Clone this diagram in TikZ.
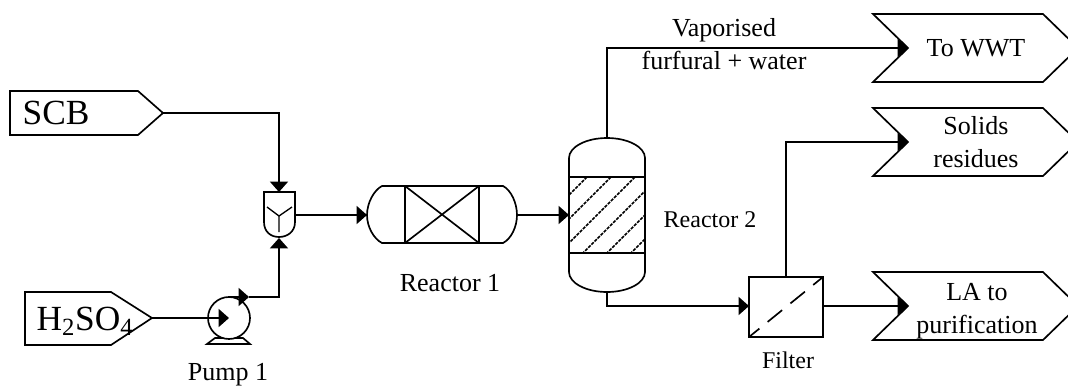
\documentclass[tikz,border=0pt]{standalone}
\usepackage{fontspec}
\setmainfont{Liberation Serif}
\usetikzlibrary{arrows.meta}
\tikzset{
  x=0.75pt,y=-0.75pt,
  unit/.style={draw=black,line width=1.25pt,line join=miter,fill=white},
  pipe/.style={draw=black,line width=1.25pt},
  flow/.style={pipe,-{Triangle[length=7.8pt,width=13.5pt]}},
  lbl/.style={inner sep=0pt,align=center,font=\fontsize{19.5pt}{24.75pt}\selectfont},
  lblsmall/.style={inner sep=0pt,align=center,font=\fontsize{18pt}{24pt}\selectfont},
  lblbig/.style={inner sep=0pt,align=center,font=\fontsize{26.5pt}{30pt}\selectfont},
}
\newcommand{\chevronat}[2]{% #1 top y, #2 mid-y
  \path[unit] (873,#1) -- (1043,#1) -- (1078,#2) -- (1043,2*#2-#1) -- (873,2*#2-#1) -- (908,#2) -- cycle;
}
\begin{document}
\begin{tikzpicture}
\useasboundingbox (0,0) rectangle (1068,387);
\clip (0,0) rectangle (1068,387);
% port coordinates
\coordinate (scbTip) at (163,113);
\coordinate (acidTip) at (152,318);
\coordinate (pumpIn) at (229,318);
\coordinate (pumpOut) at (229,297);
\coordinate (pumpOutHead) at (249,297);
\coordinate (mixTop) at (279,192);
\coordinate (mixBot) at (279,238);
\coordinate (mixOut) at (295,215);
\coordinate (r1In) at (367,215);
\coordinate (r1Out) at (517,215);
\coordinate (r2In) at (569,215);
\coordinate (r2Top) at (607,138);
\coordinate (r2Bot) at (607,292);
\coordinate (filtIn) at (749,306);
\coordinate (filtOut) at (823,306);
\coordinate (filtTop) at (786,277);
\coordinate (wwtIn) at (908,48);
\coordinate (solIn) at (908,142);
\coordinate (laIn) at (908,306);
% feeds
\path[unit] (10,91) -- (138,91) -- (scbTip) -- (138,135) -- (10,135) -- cycle;
\path[unit] (25,292) -- (111,292) -- (acidTip) -- (111,345) -- (25,345) -- cycle;
% products
\chevronat{14}{48}
\chevronat{108}{142}
\chevronat{272}{306}
% pump
\path[unit] (215,338) -- (243,338) -- (250,344) -- (207,344) -- cycle;
\path[unit] (229,318) circle [radius=21];
% mixer
\path[unit] (264,192) -- (295,192) -- (295,222) .. controls (295,232) and (287,237) .. (279,237) .. controls (271,237) and (264,232) .. (264,222) -- cycle;
\draw[line width=1pt] (267,207) -- (279,216) -- (292,207) (279,216) -- (279,232);
% reactor 1
\path[unit] (382,186) -- (503,186) .. controls (511,190) and (517,203) .. (517,215) .. controls (517,227) and (511,239) .. (503,243) -- (382,243) .. controls (374,239) and (367,227) .. (367,215) .. controls (367,203) and (374,190) .. (382,186) -- cycle;
\draw[line width=1.25pt] (405,186) rectangle (479,243) (405,186) -- (479,243) (405,243) -- (479,186);
% reactor 2
\path[unit] (569,158) .. controls (569,147) and (586,138) .. (607,138) .. controls (628,138) and (645,147) .. (645,158) -- (645,272) .. controls (645,283) and (628,292) .. (607,292) .. controls (586,292) and (569,283) .. (569,272) -- cycle;
\begin{scope}
\clip (569,177) rectangle (645,253);
\foreach \xx in {587,611,635,659,683,707,731}
  \draw[line width=1.25pt,dash pattern=on 2.4pt off 0.9pt] (\xx,177) -- (\xx-76,253);
\end{scope}
\draw[line width=1.25pt] (569,177) rectangle (645,253);
% filter
\path[unit] (749,277) rectangle (823,337);
\draw[line width=1.25pt,dash pattern=on 14pt off 8pt,dash phase=4pt] (749,337) -- (823,277);
% connectors
\draw[flow] (scbTip) -| (mixTop);
\draw[flow] (acidTip) -- (pumpIn);
\draw[flow] (pumpOut) -- (pumpOutHead);
\draw[flow] (pumpOutHead) -| (mixBot);
\draw[flow] (mixOut) -- (r1In);
\draw[flow] (r1Out) -- (r2In);
\draw[flow] (r2Top) |- (wwtIn);
\draw[flow] (r2Bot) |- (filtIn);
\draw[flow] (filtTop) |- (solIn);
\draw[flow] (filtOut) -- (laIn);
% labels
\node[lblbig] (scbLabel) at (56,113) {SCB};
\node[lblbig] (acidLabel) at (85,321) {H\textsubscript{2}SO\textsubscript{4}};
\node[lbl] (pumpLabel) at (228,375) {Pump 1};
\node[lbl] (r1Label) at (450,283) {Reactor 1};
\node[lblsmall] (r2Label) at (710,220) {Reactor 2};
\node[lblsmall] (filtLabel) at (788,360) {Filter};
\node[lbl] (vapLabel) at (724,44) {Vaporised\\furfural + water};
\node[lbl] (wwtLabel) at (976,48) {To WWT};
\node[lbl] (solLabel) at (976,142) {Solids\\residues};
\node[lbl] (laLabel) at (977,311) {LA to\\purification};
\end{tikzpicture}
\end{document}
